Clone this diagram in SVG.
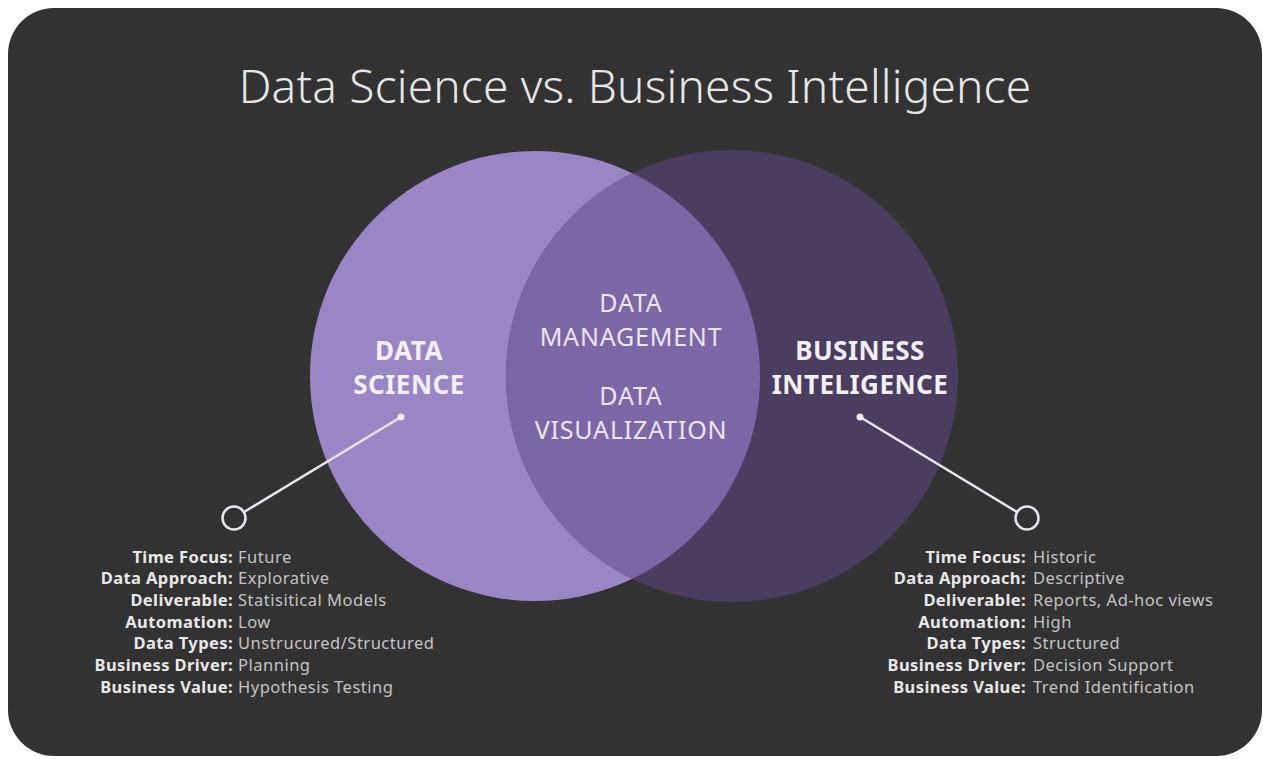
<svg xmlns="http://www.w3.org/2000/svg" width="1263" height="759" viewBox="0 0 1263 759">
<style>
.title{font-family:"Noto Sans","Liberation Sans",sans-serif;font-weight:300;font-size:46px;letter-spacing:0.2px;fill:#e6e6e6}
.head{font-family:"Noto Sans","Liberation Sans",sans-serif;font-weight:700;font-size:26px;letter-spacing:0.5px;fill:#f4f0fa;text-anchor:middle}
.mid{font-family:"Noto Sans","Liberation Sans",sans-serif;font-weight:400;font-size:25px;letter-spacing:0.8px;fill:#ece6f6;text-anchor:middle}
.lab{font-family:"Noto Sans","Liberation Sans",sans-serif;font-weight:700;font-size:16.5px;letter-spacing:0.4px;fill:#e8e8e8;text-anchor:end}
.val{font-family:"Noto Sans","Liberation Sans",sans-serif;font-weight:400;font-size:16.5px;letter-spacing:0.5px;fill:#c4c4c4}
.conn{stroke:#e8e4ee;stroke-width:2.5;fill:none}
</style>
<defs>
<clipPath id="clipL"><circle cx="535" cy="376" r="225"/></clipPath>
</defs>
<rect x="0" y="0" width="1263" height="759" fill="#ffffff"/>
<rect x="8" y="8" width="1254" height="748" rx="46" fill="#323232"/>
<text class="title" x="635" y="103" text-anchor="middle">Data Science vs. Business Intelligence</text>
<g id="ds-circle"><circle cx="535" cy="376" r="225" fill="#9a86c5"/></g>
<g id="bi-circle"><circle cx="732" cy="376" r="226" fill="#4a3d60"/></g>
<g id="overlap"><circle cx="732" cy="376" r="226" fill="#7c67a6" clip-path="url(#clipL)"/>
<text class="mid" x="631" y="312">DATA</text>
<text class="mid" x="631" y="346">MANAGEMENT</text>
<text class="mid" x="631" y="405">DATA</text>
<text class="mid" x="631" y="439">VISUALIZATION</text>
</g>
<g id="ds-label">
<text class="head" x="409" y="360">DATA</text>
<text class="head" x="409" y="394">SCIENCE</text>
</g>
<g id="bi-label">
<text class="head" x="860" y="360">BUSINESS</text>
<text class="head" x="860" y="394">INTELIGENCE</text>
</g>
<g id="connectors">
<line class="conn" x1="401" y1="417" x2="244" y2="512"/>
<circle cx="401" cy="417" r="3.5" fill="#f0ecf6"/>
<circle class="conn" cx="234" cy="518" r="11.5"/>
<line class="conn" x1="860" y1="417" x2="1017" y2="512"/>
<circle cx="860" cy="417" r="3.5" fill="#f0ecf6"/>
<circle class="conn" cx="1027" cy="518" r="11.5"/>
</g>
<g id="ds-details">
<text class="lab" x="233" y="563">Time Focus:</text><text class="val" x="238" y="563">Future</text>
<text class="lab" x="233" y="584">Data Approach:</text><text class="val" x="238" y="584">Explorative</text>
<text class="lab" x="233" y="606">Deliverable:</text><text class="val" x="238" y="606">Statisitical Models</text>
<text class="lab" x="233" y="628">Automation:</text><text class="val" x="238" y="628">Low</text>
<text class="lab" x="233" y="649">Data Types:</text><text class="val" x="238" y="649">Unstrucured/Structured</text>
<text class="lab" x="233" y="671">Business Driver:</text><text class="val" x="238" y="671">Planning</text>
<text class="lab" x="233" y="693">Business Value:</text><text class="val" x="238" y="693">Hypothesis Testing</text>
</g>
<g id="bi-details">
<text class="lab" x="1026" y="563">Time Focus:</text><text class="val" x="1033" y="563">Historic</text>
<text class="lab" x="1026" y="584">Data Approach:</text><text class="val" x="1033" y="584">Descriptive</text>
<text class="lab" x="1026" y="606">Deliverable:</text><text class="val" x="1033" y="606">Reports, Ad-hoc views</text>
<text class="lab" x="1026" y="628">Automation:</text><text class="val" x="1033" y="628">High</text>
<text class="lab" x="1026" y="649">Data Types:</text><text class="val" x="1033" y="649">Structured</text>
<text class="lab" x="1026" y="671">Business Driver:</text><text class="val" x="1033" y="671">Decision Support</text>
<text class="lab" x="1026" y="693">Business Value:</text><text class="val" x="1033" y="693">Trend Identification</text>
</g>
</svg>
